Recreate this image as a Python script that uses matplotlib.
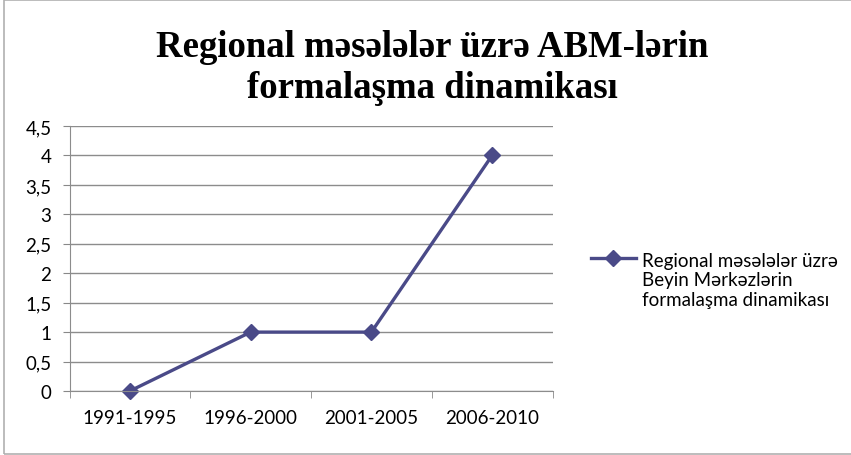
import matplotlib
matplotlib.use("Agg")
import matplotlib.pyplot as plt
from matplotlib.patches import Rectangle
from matplotlib.legend_handler import HandlerLine2D

categories = ["1991-1995", "1996-2000", "2001-2005", "2006-2010"]
values = [0, 1, 1, 4]
yticks = [0, 0.5, 1, 1.5, 2, 2.5, 3, 3.5, 4, 4.5]
ytick_labels = ["0", "0,5", "1", "1,5", "2", "2,5", "3", "3,5", "4", "4,5"]
series_label = "Regional məsələlər üzrə\nBeyin Mərkəzlərin\nformalaşma dinamikası"
title = "Regional məsələlər üzrə ABM-lərin\nformalaşma dinamikası"

W, H = 851, 456
fig = plt.figure(figsize=(W / 100, H / 100), dpi=100)
fig.patches.append(Rectangle((4 / W, 1 / H), 1.2, (455 - 1) / H, transform=fig.transFigure,
                             fill=False, edgecolor="#b0b0b0", linewidth=1.2))

ax = fig.add_axes([69.5 / W, 1 - 392 / H, (552.5 - 69.5) / W, (392 - 127) / H])
x = list(range(len(categories)))
color = "#4a4a88"
ax.plot(x, values, color=color, linewidth=2.4, marker="D", markersize=8.5,
        markerfacecolor=color, markeredgecolor=color, label=series_label, clip_on=False)
ax.set_xlim(-0.5, len(categories) - 0.5)
ax.set_ylim(0, 4.5)
ax.set_yticks(yticks)
ax.set_yticklabels(ytick_labels, fontfamily="Lato", fontsize=13.5)
ax.set_xticks(x)
ax.set_xticklabels(categories, fontfamily="Lato", fontsize=13.5)
ax.set_xticks([-0.5, 0.5, 1.5, 2.5, 3.5], minor=True)
ax.tick_params(axis="x", which="major", length=0, pad=13)
ax.tick_params(axis="x", which="minor", length=5, color="#888888")
ax.tick_params(axis="y", length=5, color="#888888", pad=8)
ax.grid(axis="y", color="#8c8c8c", linewidth=1)
ax.set_axisbelow(True)
for s in ["top", "right"]:
    ax.spines[s].set_visible(False)
for s in ["left", "bottom"]:
    ax.spines[s].set_color("#8c8c8c")

fig.text(432 / W, 1 - 68 / H, title, ha="center", va="center", fontfamily="Liberation Serif",
         fontweight="bold", fontsize=26.5, linespacing=1.2)


class TopHandler(HandlerLine2D):
    def __init__(self, shift, **kw):
        super().__init__(**kw)
        self.shift = shift

    def create_artists(self, legend, orig_handle, xdescent, ydescent, width, height,
                       fontsize, trans):
        arts = super().create_artists(legend, orig_handle, xdescent, ydescent, width,
                                      height, fontsize, trans)
        for a in arts:
            a.set_ydata([y + self.shift for y in a.get_ydata()])
        return arts


leg = fig.legend(loc="center left", bbox_to_anchor=(583 / W, 1 - 281 / H), frameon=False,
                 prop={"family": "Lato", "size": 13.5}, handlelength=2.4, handletextpad=0.35,
                 borderaxespad=0, labelspacing=0.3,
                 handler_map={matplotlib.lines.Line2D: TopHandler(16.5)})

fig.savefig("out.png", dpi=100)
